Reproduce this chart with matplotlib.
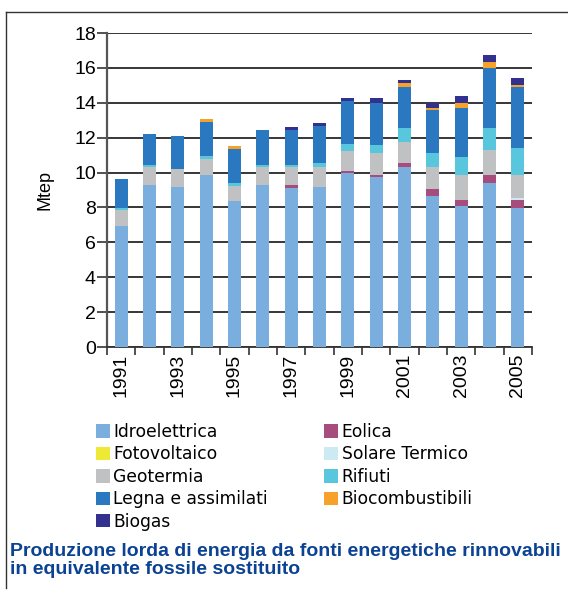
"""Produzione lorda di energia da fonti rinnovabili, 1991-2005."""

import matplotlib

matplotlib.use("Agg")
import matplotlib.pyplot as plt
import numpy as np
from matplotlib.lines import Line2D
from matplotlib.patches import Patch

plt.rcParams["font.family"] = ["Liberation Sans", "DejaVu Sans"]

years = [str(y) for y in range(1991, 2006)]

# Mtep, one value per year (bottom of the stack first)
idroelettrica = [6.95, 9.29, 9.19, 9.86, 8.36, 9.29, 9.12, 9.17, 9.96, 9.75, 10.32, 8.66, 8.08, 9.40, 7.97]
eolica = [0, 0, 0, 0, 0, 0, 0.17, 0.02, 0.13, 0.11, 0.23, 0.40, 0.35, 0.46, 0.46]
fotovoltaico = [0, 0, 0, 0, 0, 0, 0, 0, 0, 0, 0, 0, 0.01, 0.01, 0.01]
solare_termico = [0, 0, 0, 0, 0, 0, 0, 0, 0, 0, 0, 0, 0, 0, 0.11]
geotermia = [0.90, 1.03, 1.01, 0.92, 0.87, 1.03, 1.03, 1.15, 1.15, 1.26, 1.20, 1.26, 1.43, 1.44, 1.32]
rifiuti = [0.12, 0.12, 0.03, 0.17, 0.17, 0.12, 0.12, 0.23, 0.40, 0.46, 0.80, 0.80, 1.03, 1.25, 1.55]
legna = [1.65, 1.77, 1.87, 1.95, 1.95, 2.00, 2.00, 2.12, 2.46, 2.41, 2.36, 2.47, 2.81, 3.45, 3.50]
biocombustibili = [0, 0, 0, 0.17, 0.17, 0, 0, 0, 0, 0, 0.23, 0.11, 0.29, 0.34, 0.11]
biogas = [0, 0, 0, 0, 0, 0, 0.17, 0.17, 0.18, 0.29, 0.17, 0.29, 0.40, 0.40, 0.40]

# stacking order
series = [
    ("Idroelettrica", idroelettrica, "#7aaedf"),
    ("Eolica", eolica, "#a64d7e"),
    ("Fotovoltaico", fotovoltaico, "#eee836"),
    ("Solare Termico", solare_termico, "#cde9f1"),
    ("Geotermia", geotermia, "#c0c1c3"),
    ("Rifiuti", rifiuti, "#58c6dc"),
    ("Legna e assimilati", legna, "#2a78c0"),
    ("Biocombustibili", biocombustibili, "#f5a12a"),
    ("Biogas", biogas, "#32318f"),
]
legend_order = [
    "Idroelettrica", "Fotovoltaico", "Geotermia", "Legna e assimilati", "Biogas",
    "Eolica", "Solare Termico", "Rifiuti", "Biocombustibili",
]

W, H = 568, 593
fig = plt.figure(figsize=(W / 100, H / 100), dpi=100)
ax = fig.add_axes([107 / W, 1 - 347 / H, 425 / W, 314 / H])

x = np.arange(len(years))
bottom = np.zeros(len(years))
colors = {}
for name, vals, color in series:
    vals = np.array(vals)
    ax.bar(x, vals, bottom=bottom, width=0.46, color=color, zorder=3)
    bottom += vals
    colors[name] = color

ax.set_xlim(-0.5, len(years) - 0.5)
ax.set_ylim(0, 18)
ax.set_yticks(np.arange(0, 19, 2))
ax.yaxis.grid(True, color="#262626", linewidth=1.3, zorder=1)
ax.set_axisbelow(True)

ax.set_xticks(x[::2])
ax.set_xticklabels(years[::2], rotation=90)
ax.set_xticks(np.arange(-0.5, len(years)), minor=True)
ax.tick_params(axis="x", which="major", length=0, pad=5, labelsize=14)
ax.tick_params(axis="x", which="minor", length=6, width=1.2, color="#333333")
ax.tick_params(axis="y", length=7, width=1.2, color="#333333", labelsize=14, pad=1)

for side in ("top", "right"):
    ax.spines[side].set_visible(False)
ax.spines["left"].set_color("#555555")
ax.spines["left"].set_linewidth(1.6)
ax.spines["bottom"].set_color("#333333")
ax.spines["bottom"].set_linewidth(1.3)

ax.set_ylabel("Mtep", fontsize=13, labelpad=15)

handles = [Patch(facecolor=colors[n], edgecolor="none") for n in legend_order]
fig.legend(
    handles, legend_order, loc="upper left",
    bbox_to_anchor=(96 / W, 1 - 423 / H), ncol=2, frameon=False,
    prop={"family": "DejaVu Sans", "size": 12.3},
    handlelength=0.82, handleheight=0.82, handletextpad=0.2,
    labelspacing=0.26, columnspacing=3.3, borderpad=0, borderaxespad=0,
)

fig.text(
    10 / W, 1 - 543 / H,
    "Produzione lorda di energia da fonti energetiche rinnovabili\n"
    "in equivalente fossile sostituito",
    ha="left", va="top", fontsize=14.0, fontweight="bold", color="#0b4293",
    family=["Liberation Sans Narrow", "Liberation Sans"], linespacing=1.1,
)

# outer frame: top and left edges
fig.add_artist(Line2D([6 / W, 1], [1 - 12 / H, 1 - 12 / H], color="#333333", lw=1.0))
fig.add_artist(Line2D([6 / W, 6 / W], [1 - 12 / H, 1 - 588 / H], color="#333333", lw=1.0))

fig.savefig("out.png", dpi=100)
